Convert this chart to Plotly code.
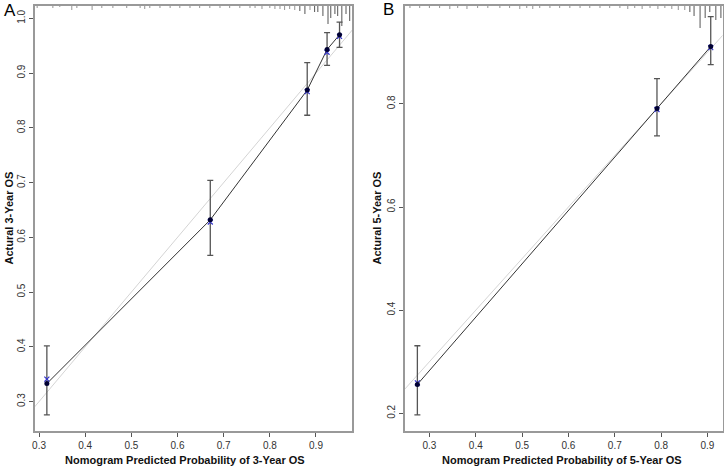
import plotly.graph_objects as go

# Panel A: 3-year OS calibration
pred_3y = [0.317, 0.671, 0.881, 0.924, 0.951]
obs_3y = [0.333, 0.632, 0.869, 0.943, 0.970]
corr_3y = [0.341, 0.628, 0.866, 0.938, 0.967]
lo_3y = [0.276, 0.567, 0.823, 0.914, 0.947]
hi_3y = [0.402, 0.704, 0.919, 0.974, 0.993]

# Panel B: 5-year OS calibration
pred_5y = [0.274, 0.791, 0.907]
obs_5y = [0.256, 0.791, 0.911]
corr_5y = [0.259, 0.789, 0.909]
lo_5y = [0.197, 0.738, 0.876]
hi_5y = [0.331, 0.849, 0.969]

# rug of predicted probabilities (position, relative frequency)
rug_3y_x = [0.296, 0.330, 0.345, 0.371, 0.382, 0.415, 0.436, 0.460, 0.490, 0.519,
            0.529, 0.540, 0.562, 0.584, 0.605, 0.627, 0.648, 0.670, 0.692, 0.713,
            0.735, 0.757, 0.768, 0.783, 0.800, 0.811, 0.822, 0.832, 0.843, 0.854,
            0.865, 0.876, 0.887, 0.897, 0.904, 0.915, 0.926, 0.932, 0.941, 0.947,
            0.956, 0.965, 0.973]
rug_3y_n = [2, 2, 1, 4, 2, 4, 2, 2, 2, 2,
            3, 2, 2, 2, 2, 2, 2, 2, 2, 2,
            2, 2, 2, 3, 2, 3, 3, 4, 3, 4,
            5, 8, 4, 6, 6, 10, 18, 12, 8, 10,
            20, 8, 15]
rug_5y_x = [0.258, 0.279, 0.300, 0.322, 0.344, 0.361, 0.381, 0.404, 0.426, 0.452,
            0.473, 0.495, 0.510, 0.523, 0.538, 0.560, 0.581, 0.603, 0.625, 0.646,
            0.668, 0.689, 0.711, 0.728, 0.743, 0.759, 0.776, 0.793, 0.808, 0.823,
            0.837, 0.851, 0.862, 0.871, 0.884, 0.895, 0.905, 0.918, 0.929]
rug_5y_n = [2, 2, 2, 2, 3, 2, 3, 2, 2, 2,
            2, 3, 2, 3, 2, 2, 2, 2, 2, 2,
            2, 2, 2, 3, 2, 3, 2, 3, 2, 3,
            4, 4, 6, 10, 22, 12, 6, 14, 12]

fig = go.Figure()


def add_panel(fig, n, pred, obs, corr, lo, hi, rug_x, rug_n):
    xa = "x" if n == 1 else "x%d" % n
    ya = "y" if n == 1 else "y%d" % n
    # ideal line
    fig.add_trace(go.Scatter(x=[0, 1], y=[0, 1], mode="lines", xaxis=xa, yaxis=ya,
                             line=dict(color="#d4d4d4", width=1), showlegend=False))
    # apparent line + error bars
    fig.add_trace(go.Scatter(x=pred, y=obs, mode="lines", xaxis=xa, yaxis=ya,
                             line=dict(color="#333333", width=1), showlegend=False))
    fig.add_trace(go.Scatter(x=pred, y=obs, mode="markers", xaxis=xa, yaxis=ya,
                             marker=dict(color="rgba(0,0,0,0)", size=1),
                             error_y=dict(type="data", symmetric=False,
                                          array=[h - o for h, o in zip(hi, obs)],
                                          arrayminus=[o - l for o, l in zip(obs, lo)],
                                          color="#555555", thickness=1.3, width=3),
                             showlegend=False))
    fig.add_trace(go.Scatter(x=pred, y=corr, mode="markers", xaxis=xa, yaxis=ya,
                             marker=dict(symbol="x-thin", size=5, color="#3333cc",
                                         line=dict(color="#3333cc", width=1.2)),
                             showlegend=False))
    fig.add_trace(go.Scatter(x=pred, y=obs, mode="markers", xaxis=xa, yaxis=ya,
                             marker=dict(symbol="circle", size=5, color="#000033"),
                             showlegend=False))
    # rug at top
    for rx, rn in zip(rug_x, rug_n):
        fig.add_shape(type="line", xref=xa, yref=ya + " domain",
                      x0=rx, x1=rx, y0=1, y1=1 - rn / 425,
                      line=dict(color="#777777" if rn < 5 else "#555555",
                                width=0.8 if rn < 5 else 1))


add_panel(fig, 1, pred_3y, obs_3y, corr_3y, lo_3y, hi_3y, rug_3y_x, rug_3y_n)
add_panel(fig, 2, pred_5y, obs_5y, corr_5y, lo_5y, hi_5y, rug_5y_x, rug_5y_n)

axis_style = dict(showline=True, mirror=True, linecolor="#999999", linewidth=1.5,
                  ticks="outside", ticklen=4, tickcolor="#555555", showgrid=False,
                  zeroline=False, automargin=False,
                  tickfont=dict(size=10, color="#333333"))
title_font = dict(family="Liberation Sans, Arial", size=11, color="#111111")
note = dict(xref="paper", yref="paper", showarrow=False,
            xanchor="center", yanchor="middle")

W, H = 724, 468
fig.update_layout(
    width=W, height=H,
    margin=dict(l=0, r=0, t=0, b=0),
    plot_bgcolor="white", paper_bgcolor="white",
    font=dict(family="Liberation Sans, Arial"),
    xaxis=dict(domain=[35 / W, 352 / W], range=[0.2913, 0.978], dtick=0.1, tick0=0.3,
               tickformat=".1f", **axis_style),
    yaxis=dict(domain=[1 - 431 / H, 1 - 6 / H], range=[0.2464, 1.0225], dtick=0.1,
               tick0=0.3, tickformat=".1f", tickangle=-90, **axis_style),
    xaxis2=dict(domain=[405 / W, 722.5 / W], range=[0.2473, 0.9324], dtick=0.1,
                tick0=0.3, tickformat=".1f", anchor="y2", **axis_style),
    yaxis2=dict(domain=[1 - 431 / H, 1 - 6 / H], range=[0.1657, 0.9897], dtick=0.2,
                tick0=0.2, tickformat=".1f", tickangle=-90, anchor="x2", **axis_style),
    annotations=[
        dict(text="A", x=10 / W, y=1 - 10 / H, font=dict(size=17, color="black"), **note),
        dict(text="B", x=388 / W, y=1 - 9 / H, font=dict(size=17, color="black"), **note),
        dict(text="<b>Nomogram Predicted Probability of 3-Year OS</b>",
             x=185 / W, y=1 - 460 / H, font=title_font, **note),
        dict(text="<b>Nomogram Predicted Probability of 5-Year OS</b>",
             x=562 / W, y=1 - 460 / H, font=title_font, **note),
        dict(text="<b>Actural 3-Year OS</b>", x=8 / W, y=1 - 218.5 / H,
             textangle=-90, font=title_font, **note),
        dict(text="<b>Actural 5-Year OS</b>", x=376 / W, y=1 - 218.5 / H,
             textangle=-90, font=title_font, **note),
    ],
)

fig.write_html("out.html", config={"displayModeBar": False},
               post_script="document.body.style.margin='0';")
